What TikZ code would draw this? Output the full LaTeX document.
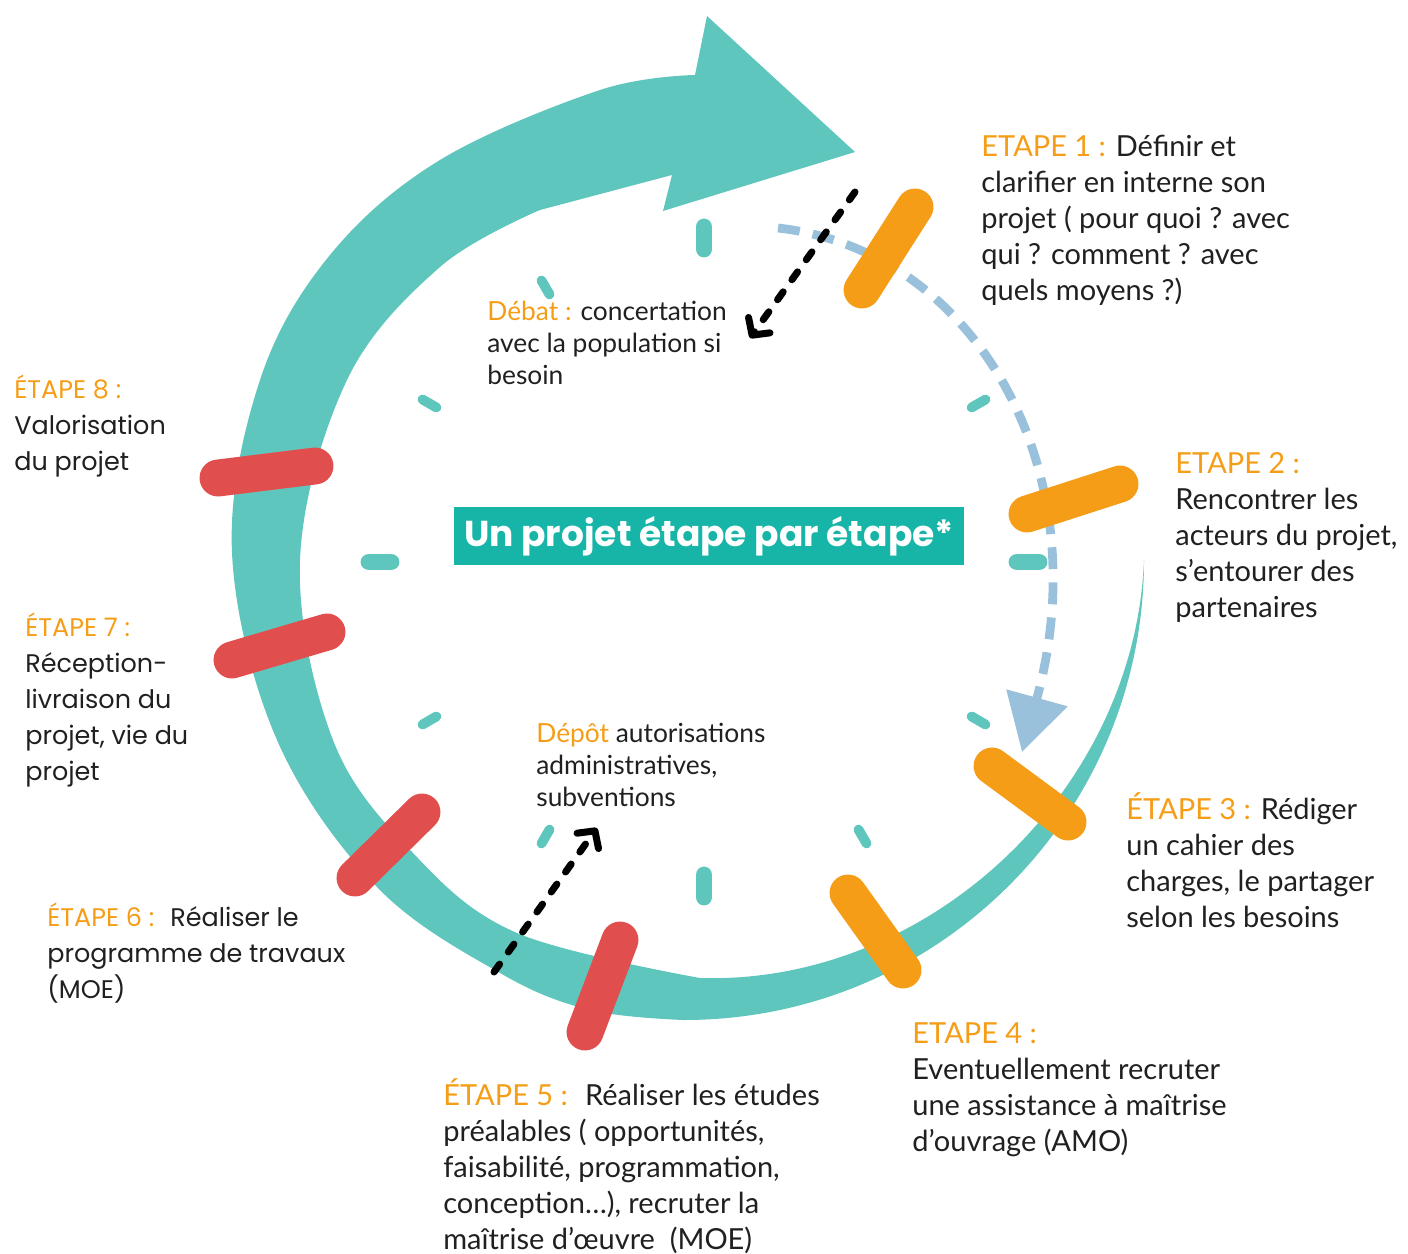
\documentclass[tikz,border=0pt]{standalone}
\usepackage{fontspec}
\setmainfont{Lato}
\newfontfamily\poppins{Poppins}
\usetikzlibrary{arrows.meta}

\definecolor{ringteal}{HTML}{5FC6BD}
\definecolor{boxteal}{HTML}{17B5A7}
\definecolor{stageorange}{HTML}{F59D16}
\definecolor{stagered}{HTML}{E04F4D}
\definecolor{pathblue}{HTML}{9AC1DB}
\definecolor{ink}{HTML}{202020}

\newcommand{\etape}[1]{\textcolor{stageorange}{#1}}

\begin{document}
\begin{tikzpicture}[x=0.02cm, y=-0.02cm,
    stagebar/.style={line width=21pt, line cap=round},
    bigtick/.style={ringteal, line width=9.6pt, line cap=round},
    smalltick/.style={ringteal, line width=5.6pt, line cap=round},
    % texts are placed at the baseline of their last line
    steptext/.style={anchor=base west, inner sep=0pt, align=left, text=ink,
      font=\fontsize{16.5}{20.4}\selectfont},
    lefttext/.style={steptext, font=\poppins\fontsize{14.5}{20.4}\selectfont},
    notetext/.style={steptext, font=\fontsize{15}{18.1}\selectfont},
    blackarrow/.style={line width=4pt, line cap=round, dash pattern=on 5.5pt off 8.5pt,
      -{Straight Barb[length=7pt,width=15pt,round]}}]
  \useasboundingbox (0,0) rectangle (1408,1253);

  % big arrow round the cycle, thin tail on the right
  \fill[ringteal] (1144,560) arc[start angle=0, end angle=90, radius=460]
    -- plot[smooth, tension=0.6] coordinates {(684,1020) (590,1010) (500,973) (377,887)
      (277,740) (232,553) (260,380) (330,255) (440,160) (600,90) (695,75)}
    -- (707,16) -- (855,152) -- (663,211) -- (672,175)
    -- plot[smooth, tension=0.6] coordinates {(540,210) (440,267) (347,380) (300,560)
      (333,740) (413,853) (517,933) (700,978)}
    .. controls (930,985) and (1135,790) .. (1144,560) -- cycle;

  % clock ticks
  \coordinate (c) at (704,562);
  \foreach \a in {0,90,180,270}
    \draw[bigtick] ([shift={(\a:313)}]c) -- ([shift={(\a:335)}]c);
  \foreach \a in {30,60,120,150,210,240,330}
    \draw[smalltick] ([shift={(\a:309)}]c) -- ([shift={(\a:325)}]c);

  % dashed path from step 1 to step 3
  \coordinate (bluefrom) at (778,228);
  \coordinate (blueto) at (1022,752);
  \draw[pathblue, line width=5pt, dash pattern=on 12.5pt off 7.5pt,
    -{Triangle[length=32pt,width=35pt]}] (bluefrom) .. controls (975,250) and (1100,470) .. (blueto);

  % step bars
  \draw[stagebar, stageorange] (862,290) -- (915,207);
  \draw[stagebar, stageorange] (1027,514) -- (1120,484);
  \draw[stagebar, stageorange] (992,766) -- (1068,822);
  \draw[stagebar, stageorange] (848,893) -- (903,970);
  \draw[stagebar, stagered] (620,940) -- (585,1032);
  \draw[stagebar, stagered] (422,812) -- (355,878);
  \draw[stagebar, stagered] (232,660) -- (327,632);
  \draw[stagebar, stagered] (218,478) -- (315,466);

  % title
  \node[fill=boxteal, text=white, inner sep=0pt, minimum width=290pt, minimum height=33pt,
    font=\poppins\bfseries\fontsize{20.5}{24}\selectfont] (title) at (709,536) {Un projet étape par étape*};

  % steps
  \node[steptext] (e1) at (981,300) {\etape{ETAPE 1 :} Définir et\\clarifier en interne son\\projet ( pour quoi ? avec\\qui ? comment ? avec\\quels moyens ?)};
  \node[steptext] (e2) at (1175,617) {\etape{ETAPE 2 :}\\Rencontrer les\\acteurs du projet,\\s’entourer des\\partenaires};
  \node[steptext] (e3) at (1126,927) {\etape{ÉTAPE 3 :} Rédiger\\un cahier des\\charges, le partager\\selon les besoins};
  \node[steptext] (e4) at (912,1151) {\etape{ETAPE 4 :}\\Eventuellement recruter\\une assistance à maîtrise\\d’ouvrage (AMO)};
  \node[steptext] (e5) at (443,1249) {\etape{ÉTAPE 5 :}~ Réaliser les études\\préalables ( opportunités,\\faisabilité, programmation,\\conception…), recruter la\\maîtrise d’œuvre~ (MOE)};
  \node[lefttext] (e6) at (47,998) {\etape{ÉTAPE 6 :}~ Réaliser le\\programme de travaux\\(MOE)};
  \node[lefttext] (e7) at (25,780) {\etape{ÉTAPE 7 :}\\Réception-\\livraison du\\projet, vie du\\projet};
  \node[lefttext] (e8) at (14,470) {\etape{ÉTAPE 8 :}\\Valorisation\\du projet};

  % side notes and their arrows
  \node[notetext] (debat) at (487,384) {\etape{Débat :} concertation\\avec la population si\\besoin};
  \node[notetext] (depot) at (536,806) {\etape{Dépôt} autorisations\\administratives,\\subventions};
  \coordinate (debatfrom) at (855,192);
  \coordinate (debatto) at (750,338);
  \coordinate (depotfrom) at (494,972);
  \coordinate (depotto) at (597,828);
  \draw[blackarrow] (debatfrom) -- (debatto);
  \draw[blackarrow] (depotfrom) -- (depotto);
\end{tikzpicture}
\end{document}
